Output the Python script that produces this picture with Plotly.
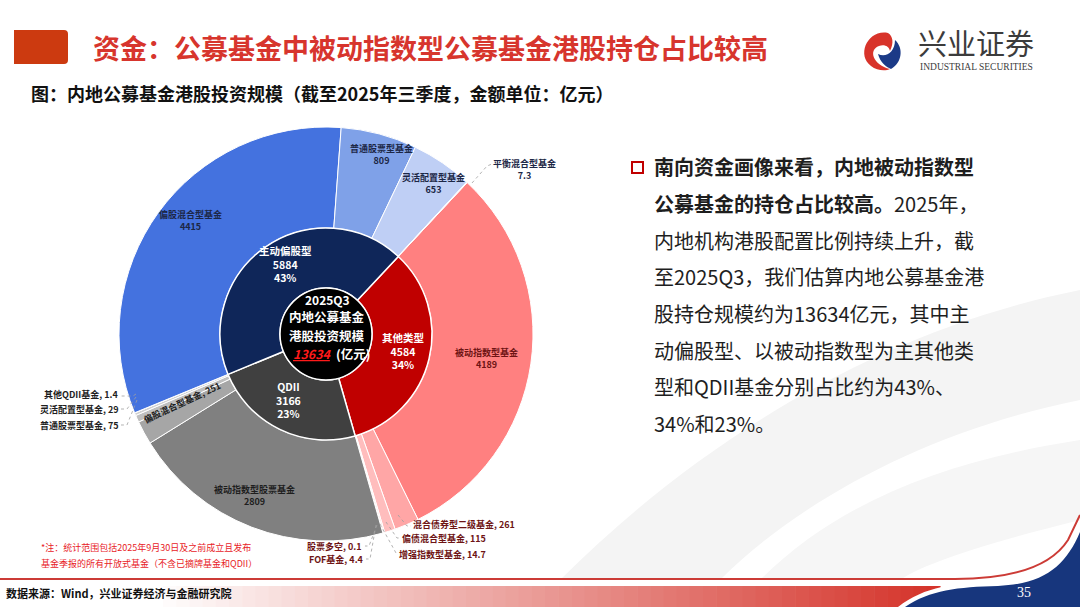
import plotly.graph_objects as go

# ---------------- data ----------------
inner_labels = ["其他类型", "QDII", "主动偏股型"]
inner_values = [4584, 3166, 5884]
inner_pcts = ["34%", "23%", "43%"]
total_value = 13634

outer_names = ["被动指数型基金", "混合债券型二级基金", "偏债混合型基金", "增强指数型基金", "FOF基金", "股票多空",
               "被动指数型股票基金", "偏股混合型基金", "普通股票型基金", "灵活配置型基金", "其他QDII基金",
               "偏股混合型基金", "普通股票型基金", "灵活配置型基金", "平衡混合型基金"]
outer_values = [4189, 261, 115, 14.7, 4.4, 0.1,
                2809, 251, 75, 29, 1.4,
                4415, 809, 653, 7.3]
outer_value_text = ["4189", "261", "115", "14.7", "4.4", "0.1",
                    "2809", "251", "75", "29", "1.4",
                    "4415", "809", "653", "7.3"]

inner_colors = ["#C00000", "#404040", "#0F2659"]
outer_colors = ["#FF8080", "#FFA6A6", "#FFBDBD", "#FFD3D3", "#FFE0E0", "#FFE8E8",
                "#808080", "#A6A6A6", "#BFBFBF", "#D0D0D0", "#E2E2E2",
                "#4472DF", "#7FA1E8", "#BFCFF5", "#DCE5FA"]

# ---------------- geometry helpers ----------------
W, H = 1080, 607
CX, CY = 326, 334
R_OUT, R_MID, R_HOLE = 207, 106, 46


def px(x):
    return x / W


def py(y):
    return 1 - y / H


def dom(r):
    return dict(x=[px(CX - r), px(CX + r)], y=[py(CY + r), py(CY - r)])


def path(points_cmd):
    out = []
    for item in points_cmd:
        if isinstance(item, str):
            out.append(item)
        else:
            out.append(f"{px(item[0]):.5f},{py(item[1]):.5f}")
    return " ".join(out)


FONT = "Noto Sans CJK SC"
START_ANGLE = 43

fig = go.Figure()

uid_outer = [f"{n}#{i}" for i, n in enumerate(outer_names)]
fig.add_trace(go.Pie(
    labels=uid_outer, values=outer_values, sort=False, direction="clockwise",
    rotation=START_ANGLE, hole=R_MID / R_OUT, domain=dom(R_OUT),
    marker=dict(colors=outer_colors, line=dict(color="white", width=1)),
    textinfo="none", hoverinfo="label+value", showlegend=False))

fig.add_trace(go.Pie(
    labels=inner_labels, values=inner_values, sort=False, direction="clockwise",
    rotation=START_ANGLE, hole=R_HOLE / R_MID, domain=dom(R_MID),
    marker=dict(colors=inner_colors, line=dict(color="white", width=1.5)),
    textinfo="none", hoverinfo="label+value", showlegend=False))

shapes = []
annotations = []


def txt(x, y, text, size=9, color="#222", xanchor="center", bold=True, angle=0, family=FONT):
    if bold:
        text = "<br>".join(f"<b>{t}</b>" for t in text.split("<br>"))
    annotations.append(dict(
        x=px(x), y=py(y), xref="paper", yref="paper", text=text,
        showarrow=False, xanchor=xanchor, yanchor="middle", textangle=angle,
        borderpad=0, font=dict(family=family, size=size, color=color)))


def line(pts, color="#A0A0A0", width=0.8, dash="dot"):
    cmd = ["M", pts[0]]
    for p in pts[1:]:
        cmd += ["L", p]
    shapes.append(dict(type="path", path=path(cmd), xref="paper", yref="paper",
                       line=dict(color=color, width=width, dash=dash), layer="above"))


# ---------------- background decorations ----------------
shapes.append(dict(type="path", xref="paper", yref="paper", layer="below",
                   path=path(["M", (560, 580), "C", (700, 440), (880, 330), (1080, 290),
                              "L", (1080, 400), "C", (930, 430), (800, 500), (720, 580), "Z"]),
                   fillcolor="#F4F4F4", line=dict(width=0)))
shapes.append(dict(type="path", xref="paper", yref="paper", layer="below",
                   path=path(["M", (760, 580), "C", (840, 500), (950, 460), (1080, 440),
                              "L", (1080, 520), "C", (1000, 540), (930, 560), (900, 580), "Z"]),
                   fillcolor="#F6F6F6", line=dict(width=0)))

# title bar
shapes.append(dict(type="path", xref="paper", yref="paper",
                   path=path(["M", (14, 30), "L", (64, 30), "Q", (68, 30), (68, 34), "L", (68, 60),
                              "Q", (68, 64), (64, 64), "L", (14, 64), "Z"]),
                   fillcolor="#CC3A10", line=dict(width=0)))

# logo
shapes.append(dict(type="path", xref="paper", yref="paper",
                   path=path(["M", (888, 33), "C", (868, 29), (856, 55), (871, 66), "C", (877, 71), (886, 71), (890, 69),
                              "C", (873, 65), (868, 50), (879, 46), "C", (884, 44), (889, 46), (890, 51),
                              "C", (894, 43), (893, 36), (888, 33), "Z"]),
                   fillcolor="#D8332A", line=dict(width=0)))
shapes.append(dict(type="path", xref="paper", yref="paper",
                   path=path(["M", (891, 69), "C", (902, 63), (904, 48), (895, 40), "C", (895, 52), (886, 58), (878, 54),
                              "C", (880, 62), (886, 67), (891, 69), "Z"]),
                   fillcolor="#1B3A87", line=dict(width=0)))

# bottom gradient band
x_start, x_end, steps = 150, 940, 60
for i in range(steps):
    t = i / (steps - 1)
    r = int(255 + (213 - 255) * t)
    g = int(255 + (52 - 255) * t)
    b = int(255 + (43 - 255) * t)
    x0 = x_start + (x_end - x_start) * i / steps
    x1 = x_start + (x_end - x_start) * (i + 1) / steps + 0.6
    shapes.append(dict(type="rect", xref="paper", yref="paper", layer="below",
                       x0=px(x0), x1=px(x1), y0=py(607), y1=py(586),
                       fillcolor=f"rgb({r},{g},{b})", line=dict(width=0)))
# blue corner with white edge
shapes.append(dict(type="path", xref="paper", yref="paper", layer="below",
                   path=path(["M", (898, 607), "C", (925, 586), (955, 583), (995, 582),
                              "C", (1040, 580), (1062, 560), (1080, 522), "L", (1080, 607), "Z"]),
                   fillcolor="white", line=dict(width=0)))
shapes.append(dict(type="path", xref="paper", yref="paper", layer="below",
                   path=path(["M", (905, 607), "C", (930, 590), (958, 587), (998, 586),
                              "C", (1045, 584), (1066, 565), (1080, 532), "L", (1080, 607), "Z"]),
                   fillcolor="#17367D", line=dict(width=0)))
# red separator line
shapes.append(dict(type="path", xref="paper", yref="paper", layer="below",
                   path=path(["M", (0, 579), "L", (955, 579), "C", (1010, 579), (1050, 568), (1068, 540),
                              "L", (1080, 515)]),
                   line=dict(color="#CC3B36", width=2)))

# center circle
shapes.append(dict(type="circle", xref="paper", yref="paper", layer="above",
                   x0=px(CX - R_HOLE), x1=px(CX + R_HOLE), y0=py(CY + R_HOLE), y1=py(CY - R_HOLE),
                   fillcolor="black", line=dict(color="white", width=1.5)))

# bullet square
shapes.append(dict(type="rect", xref="paper", yref="paper",
                   x0=px(632), x1=px(643), y0=py(173), y1=py(162),
                   fillcolor="white", line=dict(color="#C00000", width=2)))

# ---------------- leader lines ----------------
line([(472, 183), (487, 166), (492, 164)])
line([(398, 515), (407, 526), (411, 526)])
line([(386, 522), (397, 538), (400, 538)])
line([(380, 524), (396, 553), (398, 554)])
line([(377, 525), (369, 546), (365, 546)])
line([(376, 525), (370, 559), (366, 559)])
line([(136, 394), (133, 396), (120, 396)])
line([(136, 397), (127, 409), (121, 409)])
line([(137, 400), (127, 425), (121, 425)])

# ---------------- texts ----------------
txt(92, 47, "资金：公募基金中被动指数型公募基金港股持仓占比较高", size=27, color="#D7352D", xanchor="left")
txt(30, 93, "图：内地公募基金港股投资规模（截至2025年三季度，金额单位：亿元）", size=18, color="#111", xanchor="left")
txt(976, 42, "兴业证券", size=29, color="#3C3C3C", bold=False)
txt(976, 67, "INDUSTRIAL SECURITIES", size=9.5, color="#3C3C3C", bold=False, family="Liberation Serif")

body_lines = [
    "<b>南向资金画像来看，内地被动指数型</b>",
    "<b>公募基金的持仓占比较高。</b>2025年，",
    "内地机构港股配置比例持续上升，截",
    "至2025Q3，我们估算内地公募基金港",
    "股持仓规模约为13634亿元，其中主",
    "动偏股型、以被动指数型为主其他类",
    "型和QDII基金分别占比约为43%、",
    "34%和23%。",
]
for i, s in enumerate(body_lines):
    txt(653, 167 + i * 36.6, s, size=20, color="#1E1E1E", xanchor="left", bold=False)

txt(40, 547, "*注：统计范围包括2025年9月30日及之前成立且发布", size=9, color="#E8221F", xanchor="left", bold=False)
txt(40, 563, "基金季报的所有开放式基金（不含已摘牌基金和QDII）", size=9, color="#E8221F", xanchor="left", bold=False)
txt(5, 593, "数据来源：Wind，兴业证券经济与金融研究院", size=11, color="#111", xanchor="left")
txt(1024, 592, "35", size=14, color="white", bold=False, family="Liberation Sans Narrow")

# inner ring labels
for (x, y), lab, val, pct in zip([(403, 351), (288, 400), (285, 264)], inner_labels, inner_values, inner_pcts):
    txt(x, y, f"{lab}<br>{val}<br>{pct}", size=10.5, color="white")

# center
txt(CX + 1, 299, "2025Q3", size=12, color="white")
txt(CX + 1, 317, "内地公募基金", size=12.5, color="white")
txt(CX + 1, 335, "港股投资规模", size=12.5, color="white")
txt(CX + 7, 353, f"<i><u>{total_value}</u></i>", size=12.5, color="#FF1A1A", xanchor="right")
txt(CX + 9, 353, "(亿元)", size=12.5, color="white", xanchor="left")

# outer labels
BLUE_T, RED_T, GREY_T = "#1C2746", "#6E1414", "#1E1E1E"
for idx, (x, y) in zip([11, 12, 13, 14], [(190, 220), (381, 154), (433, 184), (524, 169)]):
    txt(x, y, f"{outer_names[idx]}<br>{outer_value_text[idx]}", color=BLUE_T)

txt(486, 358, f"{outer_names[0]}<br>{outer_value_text[0]}", color=RED_T)
for idx, (x, y) in zip([1, 2, 3], [(412, 524), (401, 538), (398, 554)]):
    txt(x, y, f"{outer_names[idx]}, {outer_value_text[idx]}", color=RED_T, xanchor="left")
for idx, (x, y) in zip([5, 4], [(363, 546), (365, 559)]):
    txt(x, y, f"{outer_names[idx]}, {outer_value_text[idx]}", color=RED_T, xanchor="right")

txt(254, 495, f"{outer_names[6]}<br>{outer_value_text[6]}", color=GREY_T)
txt(182, 402, f"{outer_names[7]}, {outer_value_text[7]}", color=GREY_T, angle=-25)
for idx, (x, y) in zip([10, 9, 8], [(119, 394), (120, 409), (120, 425)]):
    txt(x, y, f"{outer_names[idx]}, {outer_value_text[idx]}", color=GREY_T, xanchor="right")

fig.update_layout(
    width=W, height=H, margin=dict(l=0, r=0, t=0, b=0),
    paper_bgcolor="white", plot_bgcolor="white",
    shapes=shapes, annotations=annotations, showlegend=False,
    font=dict(family=FONT),
)
fig.write_html("out.html", config={"displayModeBar": False},
               post_script="document.body.style.margin='0';document.body.style.overflow='hidden';")
